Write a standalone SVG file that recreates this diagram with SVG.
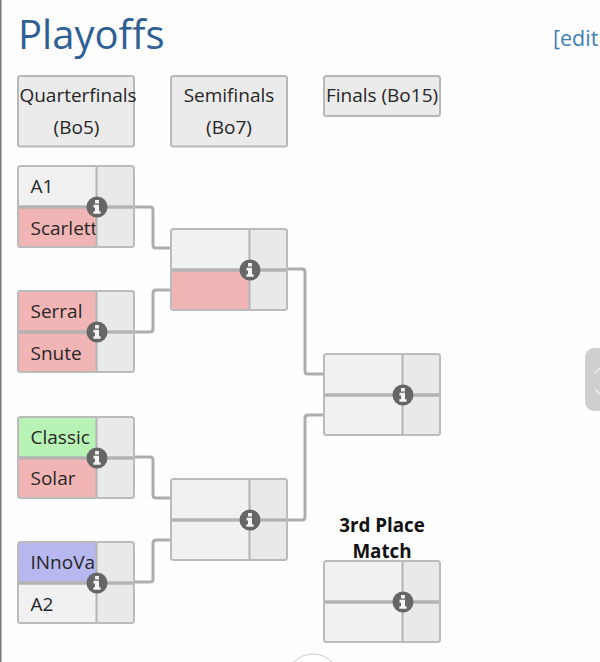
<svg xmlns="http://www.w3.org/2000/svg" width="600" height="662" viewBox="0 0 600 662">
<style>
text{font-family:"Open Sans","Noto Sans","DejaVu Sans",sans-serif;fill:#262626}
.t{font-size:19px}
.c{font-size:19px;text-anchor:middle}
.h{fill:#ebebeb;stroke:#b8b8b8;stroke-width:2}
.p{fill:#f1f1f1}
.s{fill:#e9e9e9}
.r{fill:#f2b5b5}
.g{fill:#b8f2b5}
.b{fill:#b8b8f0}
.o{fill:none;stroke:#bbb;stroke-width:2}
.m{fill:none;stroke:#b3b3b3;stroke-width:3.500}
.d{fill:none;stroke:#b3b3b3;stroke-width:2}
.w{fill:none;stroke:#adadad;stroke-width:3;stroke-linejoin:round}
</style>
<defs>
<g id="info"><circle r="10.500" fill="#666"/><path fill="#f4f4f4" d="M-1.900-7h3.800v3.400h-3.800zM-3.400-2.200H2v6.400h1.600v2.600h-7.200V4.200h1.600V.4h-1.600z"/></g>
<g id="frame"><line class="d" x1="78.500" y1="0" x2="78.500" y2="81"/><line class="m" x1="0" y1="41" x2="116" y2="41"/><rect class="o" width="116" height="81" rx="2.500"/><use href="#info" x="79" y="41"/></g>
<g id="blank"><rect class="p" width="79" height="81"/><rect class="s" x="79" width="37" height="81"/></g>
<clipPath id="cell"><rect width="78" height="81"/></clipPath>
</defs>
<rect width="600" height="662" fill="#fefefe"/>
<rect width="1.500" height="662" fill="#777"/>
<text x="18" y="49" font-size="40" style="fill:#2f6095">Playoffs</text>
<text x="553" y="46" font-size="21.500" style="fill:#3f7fb5">[edit</text>
<g id="connectors">
<path class="w" d="M135 207H150Q153 207 153 210V245Q153 248 156 248H171"/>
<path class="w" d="M135 332H150Q153 332 153 329V293Q153 290 156 290H171"/>
<path class="w" d="M135 457H150Q153 457 153 460V495Q153 498 156 498H171"/>
<path class="w" d="M135 582H150Q153 582 153 579V543Q153 540 156 540H171"/>
<path class="w" d="M288 269H302Q305 269 305 272V371Q305 374 308 374H324"/>
<path class="w" d="M288 520H302Q305 520 305 517V418Q305 415 308 415H324"/>
</g>
<g id="header-quarterfinals"><rect class="h" x="18" y="76" width="116" height="70.500" rx="2.500"/><text class="c" x="78" y="102">Quarterfinals</text><text class="c" x="76.500" y="134">(Bo5)</text></g>
<g id="header-semifinals"><rect class="h" x="171" y="76" width="116" height="70.500" rx="2.500"/><text class="c" x="229" y="102">Semifinals</text><text class="c" x="229" y="134">(Bo7)</text></g>
<g id="header-finals"><rect class="h" x="324" y="76" width="116" height="40" rx="2.500"/><text class="c" x="382" y="102">Finals (Bo15)</text></g>
<g id="qf1" transform="translate(18 166)"><use href="#blank"/><rect class="r" y="41" width="79" height="40"/><g clip-path="url(#cell)"><text class="t" x="12.500" y="27">A1</text><text class="t" x="12.500" y="69">Scarlett</text></g><use href="#frame"/></g>
<g id="qf2" transform="translate(18 291)"><use href="#blank"/><rect class="r" width="79" height="81"/><text class="t" x="12.500" y="27">Serral</text><text class="t" x="12.500" y="69">Snute</text><use href="#frame"/></g>
<g id="qf3" transform="translate(18 417)"><use href="#blank"/><rect class="g" width="79" height="41"/><rect class="r" y="41" width="79" height="40"/><text class="t" x="12.500" y="27">Classic</text><text class="t" x="12.500" y="68">Solar</text><use href="#frame"/></g>
<g id="qf4" transform="translate(18 542)"><use href="#blank"/><rect class="b" width="79" height="41"/><text class="t" x="12.500" y="27">INnoVa</text><text class="t" x="12.500" y="69">A2</text><use href="#frame"/></g>
<g id="sf1" transform="translate(171 229)"><use href="#blank"/><rect class="r" y="41" width="79" height="40"/><use href="#frame"/></g>
<g id="sf2" transform="translate(171 479)"><use href="#blank"/><use href="#frame"/></g>
<g id="final" transform="translate(324 354)"><use href="#blank"/><use href="#frame"/></g>
<g id="third-place" transform="translate(324 561)"><use href="#blank"/><use href="#frame"/></g>
<text x="382" y="532" font-size="18.800" font-weight="700" text-anchor="middle" style="fill:#111">3rd Place</text>
<text x="382" y="558" font-size="18.800" font-weight="700" text-anchor="middle" style="fill:#111">Match</text>
<rect x="585" y="348" width="30" height="63" rx="9" fill="#cfcfcf"/>
<path d="M595 373l5-5 5 5M595 389l5 5 5-5" fill="none" stroke="#eee" stroke-width="1.500"/>
<circle cx="313" cy="681" r="27" fill="#fff" stroke="#ccc"/>
</svg>
